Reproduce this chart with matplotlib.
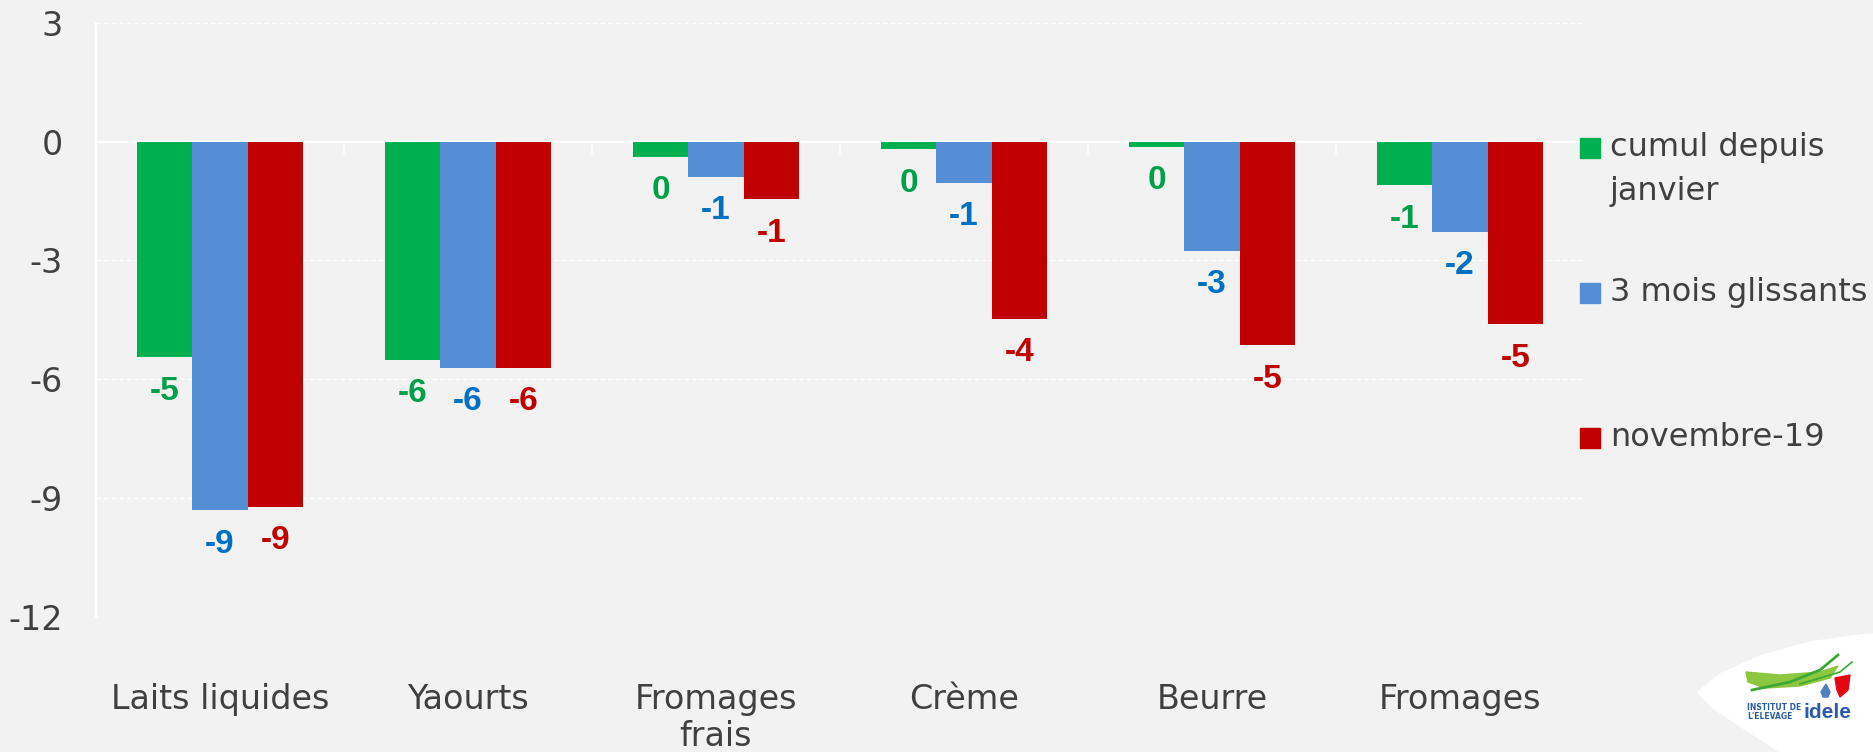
import numpy as np
import matplotlib
matplotlib.use("Agg")
import matplotlib.pyplot as plt
from matplotlib.patches import Polygon, Rectangle

# Évolution des fabrications de produits laitiers (%)
categories = ["Laits liquides", "Yaourts", "Fromages\nfrais", "Crème", "Beurre", "Fromages"]
series = ["cumul depuis\njanvier", "3 mois glissants", "novembre-19"]
cumul_janvier = [-5.45, -5.51, -0.38, -0.19, -0.13, -1.10]
trois_mois = [-9.32, -5.71, -0.88, -1.04, -2.75, -2.27]
novembre_19 = [-9.22, -5.71, -1.45, -4.47, -5.15, -4.62]
yticks = [3, 0, -3, -6, -9, -12]

bar_colors = ["#00B050", "#558ED5", "#C00000"]
label_colors = ["#00A04A", "#0070C0", "#C00000"]
fond = "#F2F2F2"
gris = "#404040"

W, H = 1874, 752
fig = plt.figure(figsize=(W / 100, H / 100), dpi=100, facecolor=fond)
ax = fig.add_axes([96 / W, 1 - 616.5 / H, 1488 / W, 593.5 / H], facecolor=fond)

x = np.arange(len(categories))
largeur = 0.223
valeurs = [cumul_janvier, trois_mois, novembre_19]

for i, (vals, c, lc) in enumerate(zip(valeurs, bar_colors, label_colors)):
    pos = x + (i - 1) * largeur
    barres = ax.bar(pos, vals, width=largeur, color=c, zorder=3)
    for b, v in zip(barres, vals):
        ax.annotate(f"{v:.0f}".replace("-0", "0"),
                    (b.get_x() + b.get_width() / 2, v),
                    xytext=(0, -24.5), textcoords="offset points",
                    ha="center", va="center", fontsize=24, fontweight="bold",
                    family="Liberation Sans", color=lc, zorder=4)

ax.set_xlim(-0.5, len(categories) - 0.5)
ax.set_ylim(-12, 3)

# quadrillage blanc pointillé, ligne du zéro pleine
for t in yticks:
    if t == 0:
        ax.axhline(0, color="white", lw=1.6, zorder=2)
    else:
        ax.axhline(t, color="white", lw=1, ls=(0, (3, 2.5)), zorder=1)
# petites graduations entre catégories sous l'axe du zéro
ax.vlines(x[:-1] + 0.5, -0.3, 0, color="white", lw=1.2, zorder=2)

for s in ["top", "right", "bottom"]:
    ax.spines[s].set_visible(False)
ax.spines["left"].set_color("white")
ax.spines["left"].set_linewidth(1.6)

ax.set_yticks(yticks)
ax.set_yticklabels([str(t) for t in yticks])
ax.tick_params(axis="y", length=0, pad=24, labelsize=24, labelcolor=gris)
ax.set_xticks(x)
ax.set_xticklabels(categories, linespacing=1.15)
ax.tick_params(axis="x", length=0, pad=48, labelsize=24, labelcolor=gris)

# légende à droite
leg_y = [147.5, 292.5, 437.5]
for nom, c, yy in zip(series, bar_colors, leg_y):
    fig.patches.append(Rectangle((1580 / W, 1 - (yy + 10) / H), 20 / W, 20 / H,
                                 transform=fig.transFigure, color=c))
    for k, ligne in enumerate(nom.split("\n")):
        fig.text(1610 / W, 1 - (yy + 44 * k) / H, ligne, fontsize=23,
                 color=gris, ha="left", va="center")

# logo idele en bas à droite
axl = fig.add_axes([1680 / W, 0, 194 / W, 132 / H])
axl.set_xlim(0, 194)
axl.set_ylim(132, 0)
axl.axis("off")
forme = [(18, 72), (40, 54), (80, 36), (130, 22), (180, 15), (194, 14),
         (194, 132), (100, 132), (60, 106), (33, 88)]
axl.add_patch(Polygon(forme, closed=True, color="white", zorder=1))
axl.add_patch(Polygon([(66, 52), (100, 55), (140, 52), (158, 46), (150, 58),
                       (120, 66), (85, 68), (68, 62)], closed=True,
                      color="#8DC63F", zorder=2))
axl.plot([72, 110, 140, 158], [70, 62, 50, 35], color="#3AA935", lw=2, zorder=3)
axl.plot([120, 160, 172], [64, 52, 42], color="#3AA935", lw=1.2, zorder=3)
axl.add_patch(Polygon([(146, 64), (150, 72), (148, 77), (143, 77), (141, 72)],
                      closed=True, color="#4F7FC0", zorder=3))
axl.add_patch(Polygon([(155, 58), (170, 55), (168, 70), (160, 77), (157, 70)],
                      closed=True, color="#E30613", zorder=3))
axl.text(67, 88, "INSTITUT DE", fontsize=5.5, fontweight="bold",
         color="#2A5CAA", ha="left", va="center", zorder=4)
axl.text(67, 96.5, "L'ELEVAGE", fontsize=5.5, fontweight="bold",
         color="#2A5CAA", ha="left", va="center", zorder=4)
axl.text(124, 93, "idele", fontsize=15, fontweight="bold", family="Liberation Sans",
         color="#2A5CAA", ha="left", va="center", zorder=4)

fig.savefig("out.png", dpi=100, facecolor=fond)
